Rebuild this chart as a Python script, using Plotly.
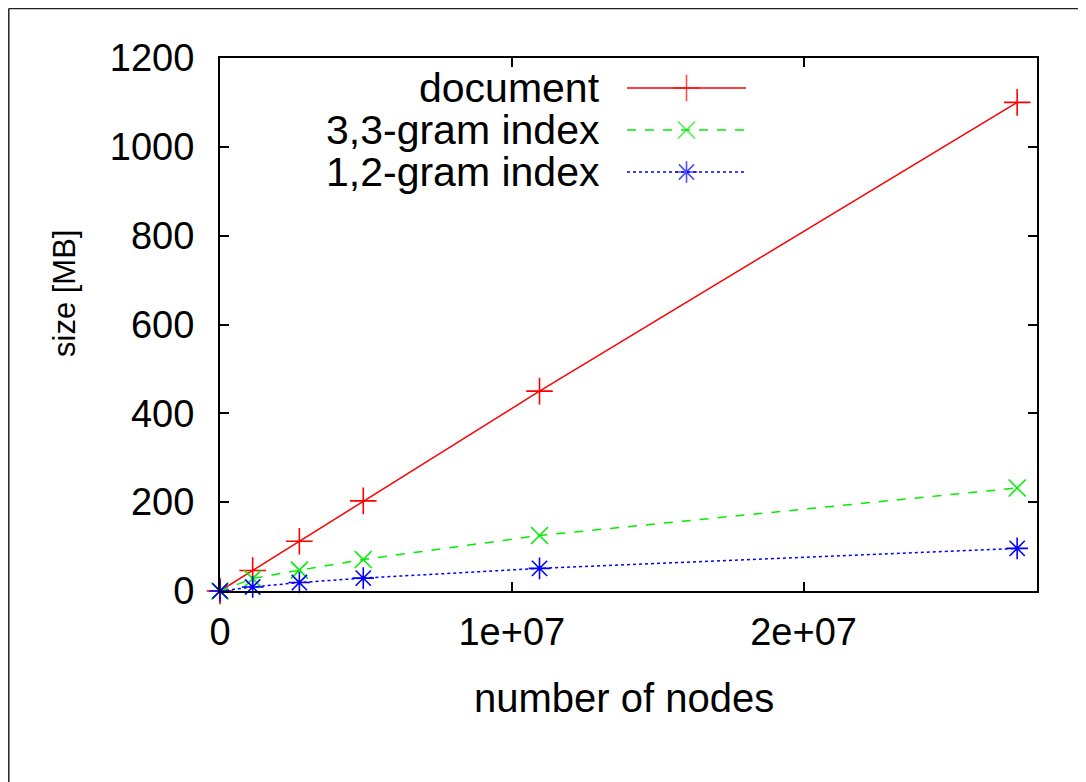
import plotly.graph_objects as go

# ---- data ----
nodes = [0, 1.12e6, 2.72e6, 4.91e6, 1.095e7, 2.732e7]
document_mb = [0, 46, 112, 203, 450, 1100]
gram33_mb = [0, 28, 47, 71, 125, 232]
gram12_mb = [0, 9, 19, 29, 51, 96]
series_names = ["document", "3,3-gram index", "1,2-gram index"]
x_tick_vals = [0, 1e7, 2e7]
x_tick_text = ["0", "1e+07", "2e+07"]
y_tick_vals = [0, 200, 400, 600, 800, 1000, 1200]
x_title = "number of nodes"
y_title = "size [MB]"

W, H = 1086, 782
OFF = 8  # page offset of the rendered figure
L, R, T, B = 220 - OFF, 1037 - OFF, 58 - OFF, 591 - OFF
FONT = "Liberation Sans, Arial, sans-serif"
FS = 38

colors = ["#ff0000", "#00ee00", "#0000ff"]
dashes = ["solid", "dash", "dot"]
symbols = ["cross-thin", "x-thin", "asterisk-open"]
msizes = [19, 17, 18]
series = [document_mb, gram33_mb, gram12_mb]

fig = go.Figure()
for name, ys, c, d, s, ms in zip(series_names, series, colors, dashes, symbols, msizes):
    fig.add_trace(go.Scatter(
        x=nodes, y=ys, mode="lines+markers", name=name,
        line=dict(color=c, width=1.5, dash=d),
        marker=dict(symbol=s, size=ms, color=c, line=dict(color=c, width=1.6)),
        cliponaxis=False, showlegend=False,
    ))

# helpers: reference-image pixel -> plot-area fraction
pw, ph = R - L, B - T
def px2x(px):
    return (px - OFF - L) / pw
def py2y(py):
    return (B - (py - OFF)) / ph

# custom gnuplot-style key on an invisible overlay axis
key_rows = [88, 130, 172]
for name, c, d, s, ms, row in zip(series_names, colors, dashes, symbols, msizes, key_rows):
    yk = py2y(row)
    fig.add_trace(go.Scatter(
        x=[px2x(627), px2x(686.5), px2x(746)], y=[yk, yk, yk],
        xaxis="x2", yaxis="y2", mode="lines+markers", showlegend=False,
        line=dict(color=c, width=1.5, dash=d),
        marker=dict(symbol=s, size=[0, ms, 0], color=c, line=dict(color=c, width=1.6)),
        cliponaxis=False, hoverinfo="skip",
    ))
    fig.add_annotation(
        x=px2x(601), y=yk, xref="x2", yref="y2", text=name, showarrow=False,
        xanchor="right", yanchor="middle", borderpad=0,
        font=dict(family=FONT, size=41, color="black"),
    )

# axis titles
fig.add_annotation(x=px2x(624), y=py2y(698), xref="paper", yref="paper", text=x_title,
                   showarrow=False, xanchor="center", yanchor="middle",
                   font=dict(family=FONT, size=40, color="black"))
fig.add_annotation(x=px2x(64), y=py2y(294), xref="paper", yref="paper", text=y_title,
                   showarrow=False, xanchor="center", yanchor="middle", textangle=-90,
                   font=dict(family=FONT, size=31, color="black"))

axis_common = dict(
    showline=True, linecolor="black", linewidth=2, mirror="ticks",
    ticks="inside", ticklen=9, tickwidth=1.5, tickcolor="black",
    showgrid=False, zeroline=False,
    tickfont=dict(family=FONT, size=FS, color="black"),
)

fig.update_layout(
    width=W, height=H, autosize=False,
    margin=dict(l=L, r=W - R, t=T, b=H - B, pad=0),
    plot_bgcolor="white", paper_bgcolor="white",
    xaxis=dict(range=[0, 2.8e7], tickvals=x_tick_vals, ticktext=x_tick_text,
               ticklabelstandoff=6, **axis_common),
    yaxis=dict(range=[0, 1200], tickvals=y_tick_vals, ticklabelstandoff=16, **axis_common),
    xaxis2=dict(range=[0, 1], overlaying="x", visible=False, fixedrange=True),
    yaxis2=dict(range=[0, 1], overlaying="y", visible=False, fixedrange=True),
    showlegend=False,
)

# outer frame (only top and left edges visible in the image)
fx = (0.8 - L) / pw
fy = (B - 0.5) / ph
fig.add_shape(type="line", xref="paper", yref="paper", x0=fx, x1=fx, y0=-1, y1=fy,
              line=dict(color="#222222", width=1.5))
fig.add_shape(type="line", xref="paper", yref="paper", x0=fx, x1=2, y0=fy, y1=fy,
              line=dict(color="#222222", width=1.5))

fig.write_html("out.html")
